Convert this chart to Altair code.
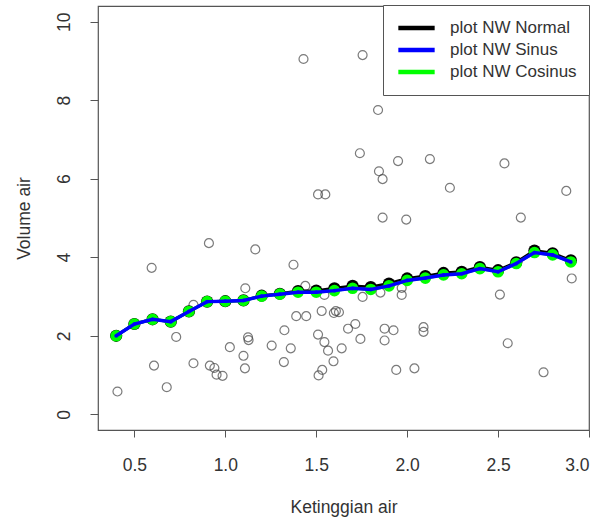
import altair as alt
import pandas as pd

# Observed data: water height vs. water volume
obs_x = [1.43, 1.51, 1.55, 1.755, 2.13, 1.84, 1.74, 1.845, 1.865, 1.95, 2.125, 2.535,
         2.235, 2.875, 1.865, 1.995, 2.625,
         0.91, 1.165, 0.595, 1.375, 1.11, 1.44, 0.825, 1.545, 1.53, 1.39, 1.445, 1.597,
         1.608, 1.625, 0.73, 1.125, 1.128, 1.325, 1.675, 1.025, 1.10, 1.255, 1.36, 1.51,
         1.545, 1.565, 1.64, 1.595, 0.608, 0.825, 0.915, 0.94, 0.952, 0.985, 1.108, 1.322,
         1.533, 1.513, 0.678, 0.407,
         1.755, 1.853, 1.97, 1.97, 2.51, 2.905, 1.715, 1.743, 1.876, 1.925, 1.876, 2.09,
         2.09, 1.94, 2.04, 2.553, 2.75]
obs_y = [9.05, 5.60, 5.60, 9.15, 8.27, 7.75, 6.65, 6.19, 5.99, 6.45, 6.50, 6.39,
         5.77, 5.69, 5.01, 4.96, 5.01,
         4.36, 4.20, 3.73, 3.81, 3.21, 3.27, 2.79, 3.04, 2.63, 2.50, 2.50, 2.58,
         2.63, 2.60, 1.97, 1.96, 1.89, 2.14, 2.18, 1.71, 1.49, 1.75, 1.68, 2.03,
         1.84, 1.62, 1.68, 1.35, 1.24, 1.30, 1.24, 1.18, 1.01, 0.98, 1.17, 1.33,
         1.13, 0.99, 0.69, 0.58,
         2.99, 3.10, 3.22, 3.04, 3.05, 3.46, 2.30, 1.92, 2.18, 2.14, 1.88, 2.22,
         2.10, 1.13, 1.17, 1.81, 1.07]

# Nadaraya-Watson estimates on the evaluation grid
grid_x = [0.4, 0.5, 0.6, 0.7, 0.8, 0.9, 1.0, 1.1, 1.2, 1.3, 1.4, 1.5, 1.6,
          1.7, 1.8, 1.9, 2.0, 2.1, 2.2, 2.3, 2.4, 2.5, 2.6, 2.7, 2.8, 2.9]
nw_normal = [2.00, 2.30, 2.42, 2.36, 2.62, 2.87, 2.88, 2.90, 3.02, 3.07, 3.14, 3.15, 3.21,
             3.27, 3.24, 3.33, 3.46, 3.52, 3.60, 3.63, 3.75, 3.67, 3.87, 4.17, 4.10, 3.92]
nw_sinus = [2.00, 2.30, 2.42, 2.36, 2.62, 2.87, 2.88, 2.90, 3.01, 3.06, 3.11, 3.11, 3.15,
            3.21, 3.18, 3.27, 3.41, 3.47, 3.55, 3.58, 3.71, 3.63, 3.84, 4.12, 4.06, 3.88]
nw_cosinus = [2.00, 2.30, 2.42, 2.36, 2.62, 2.87, 2.88, 2.90, 3.01, 3.06, 3.11, 3.11, 3.15,
              3.21, 3.18, 3.27, 3.41, 3.47, 3.55, 3.58, 3.71, 3.63, 3.84, 4.12, 4.06, 3.88]

series_names = ["plot NW Normal", "plot NW Sinus", "plot NW Cosinus"]
series_colors = ["#000000", "#0000FF", "#00FF00"]

obs = pd.DataFrame({"x": obs_x, "y": obs_y})
frames = []
for name, vals in zip(series_names, [nw_normal, nw_sinus, nw_cosinus]):
    frames.append(pd.DataFrame({"x": grid_x, "y": vals, "kernel": name}))
nw = pd.concat(frames, ignore_index=True)

FONT = "Liberation Sans"
TXT = "#333333"
AX = "#555555"

xscale = alt.Scale(domain=[0.3, 3.0], nice=False, zero=False)
yscale = alt.Scale(domain=[-0.4, 10.4], nice=False, zero=False)

xaxis = alt.Axis(title="Ketinggian air", values=[0.5, 1.0, 1.5, 2.0, 2.5, 3.0], format=".1f",
                 domain=False, grid=False, tickSize=7, tickColor=AX, labelPadding=19,
                 labelFontSize=17.5, labelFont=FONT, labelColor=TXT,
                 titleFont=FONT, titleFontSize=17.5, titleFontWeight="normal",
                 titleColor=TXT, titlePadding=25)
yaxis = alt.Axis(title="Volume air", values=[0, 2, 4, 6, 8, 10], format="d",
                 domain=False, grid=False, tickSize=8, tickColor=AX, labelPadding=17,
                 labelAngle=270, labelAlign="center", labelBaseline="bottom",
                 labelFontSize=17.5, labelFont=FONT, labelColor=TXT,
                 titleFont=FONT, titleFontSize=17.5, titleFontWeight="normal",
                 titleColor=TXT, titlePadding=22)

color = alt.Scale(domain=series_names, range=series_colors)

points = alt.Chart(obs).mark_point(shape="circle", filled=False, size=80,
                                   color="#444444", strokeWidth=1.2).encode(
    x=alt.X("x:Q", scale=xscale, axis=xaxis),
    y=alt.Y("y:Q", scale=yscale, axis=yaxis),
)

# Legend keys are short horizontal line segments; a wide custom path keeps
# the entry rows compact while the drawn segment stays long.
legend = alt.Legend(title=None, orient="none", legendX=285, legendY=-1,
                    symbolType="M-2,0H2", symbolSize=330, symbolStrokeWidth=4.5,
                    symbolOffset=10, labelOffset=22, clipHeight=22,
                    labelFont=FONT, labelFontSize=17, labelColor=TXT,
                    padding=12, rowPadding=0, fillColor="white", strokeColor=AX)


def layer(name, line_w, pt_size, with_legend=False):
    base = alt.Chart(nw).transform_filter(alt.datum.kernel == name)
    enc = dict(
        x=alt.X("x:Q", scale=xscale),
        y=alt.Y("y:Q", scale=yscale),
        color=alt.Color("kernel:N", scale=color,
                        legend=legend if with_legend else None,
                        sort=series_names),
    )
    ln = base.mark_line(strokeWidth=line_w).encode(**enc)
    pt = base.mark_circle(size=pt_size, opacity=1).encode(**enc)
    return ln + pt


chart = alt.layer(
    points,
    layer("plot NW Normal", 3, 150, with_legend=True),
    layer("plot NW Cosinus", 3, 135),
    layer("plot NW Sinus", 3.5, 14),
).properties(
    width=491, height=424,
    padding={"left": 98, "top": 6, "right": 22, "bottom": 92},
    autosize=alt.AutoSizeParams(type="none"),
    background="white",
).configure_view(stroke=AX, strokeWidth=1.2)

chart.save("out.html", embed_options={"renderer": "svg", "actions": False})
